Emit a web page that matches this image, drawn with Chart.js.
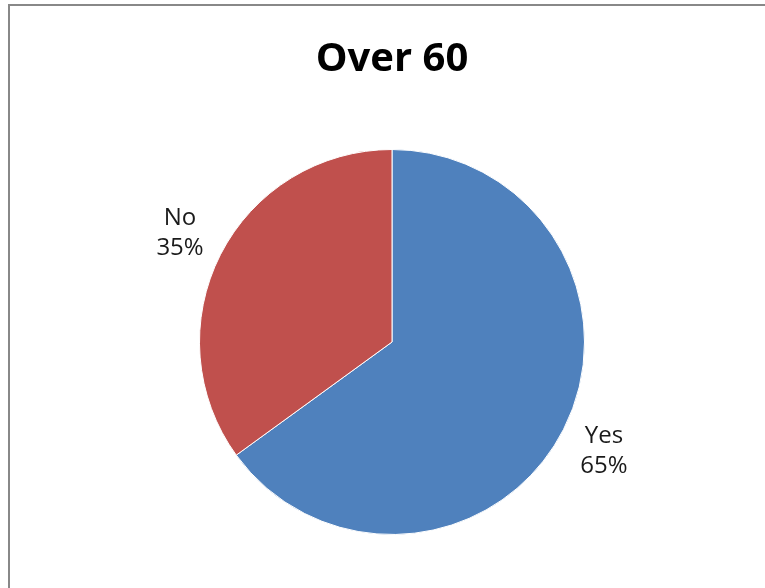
<!DOCTYPE html>
<html>
<head>
<meta charset="utf-8">
<script src="https://cdn.jsdelivr.net/npm/chart.js@4.4.1/dist/chart.umd.min.js"></script>
<style>
  html, body { margin: 0; padding: 0; background: #fff; }
  #wrap { width: 765px; height: 588px; }
</style>
</head>
<body>
<div id="wrap"><canvas id="pieChart" width="765" height="588"></canvas></div>
<script>
// Over 60 - Pie Chart
const categories = ['Yes', 'No'];
const shares = [65, 35];
const sliceColors = ['#4F81BD', '#C0504D'];

// frame around the whole chart (cut off at right/bottom like the original)
const framePlugin = {
  id: 'frame',
  beforeDraw(chart) {
    const ctx = chart.ctx;
    ctx.save();
    ctx.fillStyle = '#fff';
    ctx.fillRect(0, 0, chart.width, chart.height);
    ctx.strokeStyle = '#888888';
    ctx.lineWidth = 2;
    ctx.strokeRect(9, 5, chart.width + 20, chart.height + 20);
    ctx.restore();
  }
};

// category + percent labels outside each slice
const outsideLabels = {
  id: 'outsideLabels',
  afterDatasetsDraw(chart) {
    const ctx = chart.ctx;
    const meta = chart.getDatasetMeta(0);
    const total = shares.reduce((a, b) => a + b, 0);
    ctx.save();
    ctx.font = '24px "Open Sans"';
    ctx.fillStyle = '#1a1a1a';
    ctx.textAlign = 'center';
    ctx.textBaseline = 'middle';
    meta.data.forEach((arc, i) => {
      const p = arc.getProps(['x', 'y', 'startAngle', 'endAngle', 'outerRadius'], true);
      const mid = (p.startAngle + p.endAngle) / 2 + 0.005;
      const r = p.outerRadius + 46;
      const lx = p.x + Math.cos(mid) * r;
      const ly = p.y + Math.sin(mid) * r;
      const pct = Math.round(shares[i] / total * 100) + '%';
      ctx.fillText(categories[i], lx, ly - 15);
      ctx.fillText(pct, lx, ly + 15);
    });
    ctx.restore();
  }
};

new Chart(document.getElementById('pieChart'), {
  type: 'pie',
  data: {
    labels: categories,
    datasets: [{
      data: shares,
      backgroundColor: sliceColors,
      borderColor: '#ffffff',
      borderWidth: 1
    }]
  },
  options: {
    responsive: false,
    animation: false,
    layout: {
      padding: { left: 199, right: 180, top: 0, bottom: 53 }
    },
    plugins: {
      legend: { display: false },
      tooltip: { enabled: false },
      title: {
        display: true,
        text: 'Over 60',
        color: '#000',
        font: { family: '"Open Sans"', size: 40, weight: 'bold' },
        padding: { top: 36, bottom: 65 }
      }
    }
  },
  plugins: [framePlugin, outsideLabels]
});
</script>
</body>
</html>
